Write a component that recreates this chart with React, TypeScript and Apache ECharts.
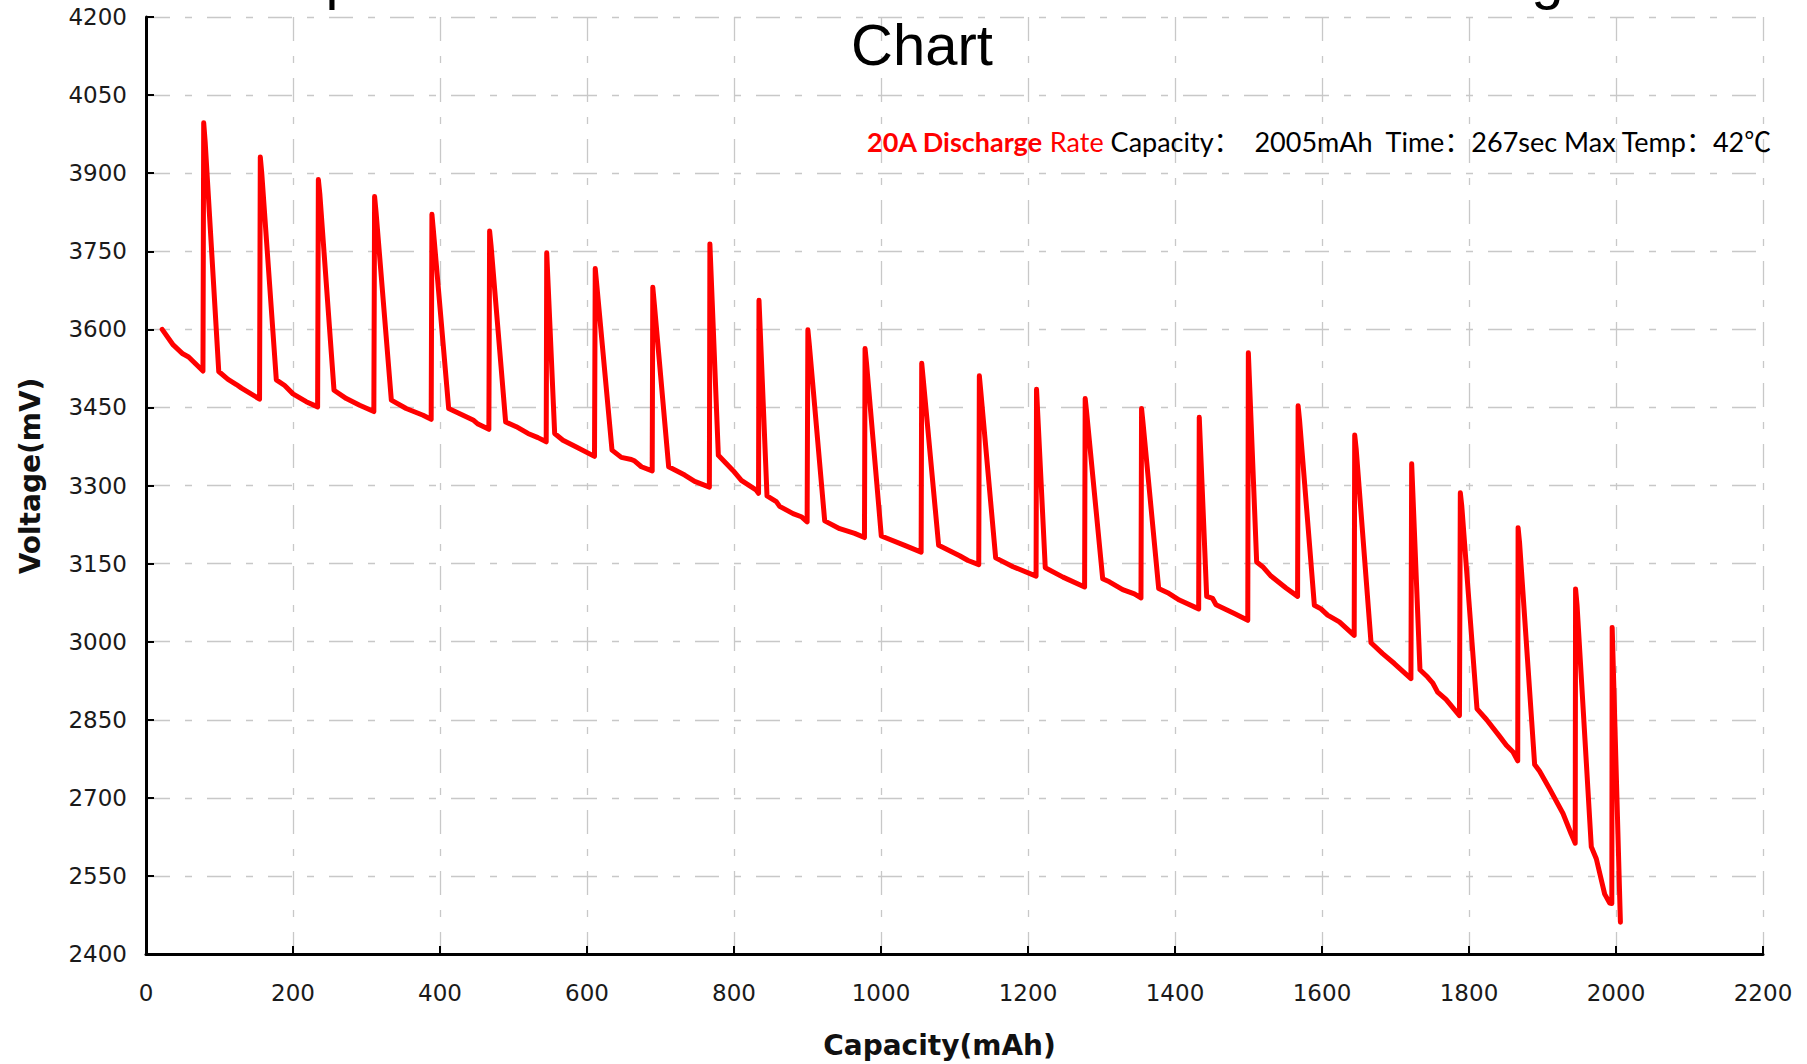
import React, { useEffect, useRef } from "react";
import * as echarts from "echarts";

const titleLines = ["Open Circuit Rebound at 20A Intermittent Loading", "Chart"];
const xAxisName = "Capacity(mAh)";
const yAxisName = "Voltage(mV)";
const xRange = [0, 2200, 200];
const yRange = [2400, 4200, 150];
const noteRed = "20A Discharge";
const noteRed2 = "Rate";
const noteBlack = "Capacity：  2005mAh  Time：267sec Max Temp：42℃";

const capacity = [
  22, 37, 50, 58, 77.5,
  78.5, 80.5, 99, 111.6, 123, 130, 154.5,
  155.5, 157.5, 177.3, 188.7, 200, 218, 233.5,
  234.5, 236.5, 255.8, 272.6, 290.7, 310,
  311, 313, 333.8, 354, 377, 388,
  389, 391, 411.8, 431.3, 445, 451.7, 466.5,
  467.5, 469.5, 489.3, 503.8, 519.7, 533.3, 544.5,
  545.2, 556, 567.3, 585.5, 610.2,
  611.2, 613, 634, 646.7, 660.3, 665, 674, 688.7,
  689.5, 691.5, 711.1, 732.9, 746.5, 766.5,
  767.2, 778.7, 798.6, 810, 830.4, 833.4,
  834, 844.9, 857.6, 862.1, 880.3, 891.6, 899.5,
  900.5, 902.5, 923.4, 943.8, 964.2, 977.5,
  978.3, 980.3, 1000.4, 1032.2, 1054.6,
  1055.4, 1057.4, 1078.4, 1107, 1118.4, 1133,
  1133.8, 1135.8, 1156, 1179.6, 1211,
  1211.6, 1223.5, 1247.6, 1277,
  1277.8, 1279.8, 1301.6, 1310.7, 1328.8, 1344.7, 1353.7,
  1354.5, 1356.5, 1377.8, 1390, 1405.9, 1432.2,
  1433, 1443.1, 1451.2, 1455.8, 1480.7, 1499,
  1499.8, 1511.1, 1519.3, 1530.6, 1551, 1566.8,
  1567.5, 1569.5, 1589.6, 1598.6, 1607.7, 1623.6, 1643.8,
  1644.5, 1646.5, 1666.7, 1682.5, 1698.4, 1721,
  1722, 1733.3, 1743.7, 1750.5, 1757.3, 1768.7, 1787,
  1788.2, 1790.2, 1810.9, 1824, 1841.7, 1850.8, 1859.9, 1866.3,
  1866.8, 1868.8, 1889.3, 1896.1, 1909.8, 1927.9, 1939.2, 1944.5,
  1945, 1947, 1966.4, 1973.2, 1984.6, 1991.4, 1994.3,
  1994.8, 2006,
];

const voltage = [
  3600, 3570, 3553, 3547, 3520,
  3997, 3960, 3519, 3504, 3494, 3487, 3466,
  3931, 3900, 3503, 3492, 3476, 3461, 3451,
  3888, 3860, 3483, 3467, 3454, 3442,
  3855, 3825, 3464, 3448, 3435, 3427,
  3821, 3790, 3448, 3435, 3426, 3418, 3408,
  3789, 3760, 3422, 3413, 3400, 3392, 3384,
  3747, 3400, 3387, 3374, 3356,
  3717, 3690, 3368, 3354, 3350, 3347, 3336, 3328,
  3681, 3650, 3336, 3320, 3308, 3297,
  3764, 3358, 3329, 3310, 3291, 3285,
  3656, 3280, 3269, 3260, 3246, 3240, 3230,
  3599, 3570, 3232, 3217, 3208, 3200,
  3563, 3535, 3203, 3185, 3172,
  3535, 3505, 3185, 3165, 3156, 3148,
  3511, 3480, 3161, 3144, 3126,
  3485, 3142, 3124, 3105,
  3467, 3440, 3121, 3115, 3100, 3092, 3084,
  3448, 3420, 3102, 3094, 3080, 3063,
  3431, 3087, 3083, 3071, 3054, 3041,
  3555, 3153, 3144, 3126, 3103, 3087,
  3453, 3425, 3070, 3063, 3051, 3038, 3012,
  3397, 3370, 2998, 2977, 2958, 2929,
  3342, 2946, 2932, 2921, 2903, 2889, 2858,
  3286, 3260, 2871, 2850, 2818, 2801, 2788, 2771,
  3219, 3190, 2764, 2751, 2717, 2670, 2630, 2613,
  3101, 3070, 2606, 2583, 2515, 2498, 2497,
  3027, 2461,
];

export default function App() {
  const ref = useRef<HTMLDivElement>(null);

  useEffect(() => {
    document.body.style.margin = "0";
    if (!ref.current) return;
    const chart = echarts.init(ref.current, undefined, { renderer: "svg" });
    const data = capacity.map((c, i) => [c, voltage[i]]);
    const gridDash = [24, 15, 7, 15];
    const tickFont = "DejaVu Sans";
    const plain = (v: number) => String(v);

    chart.setOption({
      animation: false,
      backgroundColor: "#ffffff",
      grid: { left: 146, right: 44, top: 17, bottom: 110, containLabel: false },
      xAxis: {
        type: "value",
        min: xRange[0],
        max: xRange[1],
        interval: xRange[2],
        name: xAxisName,
        nameLocation: "middle",
        nameGap: 77,
        nameTextStyle: {
          fontFamily: tickFont,
          fontWeight: "bold",
          fontSize: 28,
          color: "#111",
          padding: [0, 30, 0, 0],
        },
        axisLine: { show: true, onZero: false, lineStyle: { color: "#000", width: 3 } },
        axisTick: { show: true, inside: true, length: 8, lineStyle: { color: "#000", width: 2 } },
        axisLabel: { margin: 27, fontFamily: tickFont, fontSize: 23, color: "#1a1a1a", formatter: plain },
        splitLine: { show: true, lineStyle: { color: "#c8c8c8", width: 1.3, type: gridDash } },
      },
      yAxis: {
        type: "value",
        min: yRange[0],
        max: yRange[1],
        interval: yRange[2],
        name: yAxisName,
        nameLocation: "middle",
        nameGap: 102,
        nameTextStyle: {
          fontFamily: tickFont,
          fontWeight: "bold",
          fontSize: 28,
          color: "#111",
          padding: [0, 0, 0, 19],
        },
        axisLine: { show: true, onZero: false, lineStyle: { color: "#000", width: 3 } },
        axisTick: { show: true, inside: true, length: 8, lineStyle: { color: "#000", width: 2 } },
        axisLabel: { margin: 19, fontFamily: tickFont, fontSize: 23, color: "#1a1a1a", formatter: plain },
        splitLine: { show: true, lineStyle: { color: "#c8c8c8", width: 1.3, type: gridDash } },
      },
      graphic: [
        {
          type: "text",
          x: 922,
          y: -56,
          z: 10,
          style: {
            text: titleLines.join("\n"),
            fontFamily: "Liberation Sans",
            fontSize: 58,
            lineHeight: 67,
            fill: "#000",
            align: "center",
            textAlign: "center",
            verticalAlign: "top",
            textVerticalAlign: "top",
          },
        },
        {
          type: "text",
          x: 867,
          y: 141,
          z: 10,
          style: {
            text: `{b|${noteRed}}{r| ${noteRed2} }{k|${noteBlack}}`,
            fontFamily: "Lato, 'Noto Sans CJK SC'",
            fontSize: 27,
            verticalAlign: "middle",
            textVerticalAlign: "middle",
            rich: {
              b: { fontFamily: "Lato, 'Noto Sans CJK SC'", fontSize: 27, fontWeight: "bold", fill: "#ff0000", color: "#ff0000" },
              r: { fontFamily: "Lato, 'Noto Sans CJK SC'", fontSize: 27, fill: "#ff0000", color: "#ff0000" },
              k: { fontFamily: "Lato, 'Noto Sans CJK SC'", fontSize: 27, fill: "#000000", color: "#000000" },
            },
          },
        },
      ],
      series: [
        {
          type: "line",
          data,
          showSymbol: false,
          symbol: "none",
          smooth: false,
          lineStyle: { color: "#ff0000", width: 5, join: "round", cap: "round" },
          itemStyle: { color: "#ff0000" },
        },
      ],
    });

    return () => chart.dispose();
  }, []);

  return <div ref={ref} style={{ width: 1807, height: 1064 }} />;
}
